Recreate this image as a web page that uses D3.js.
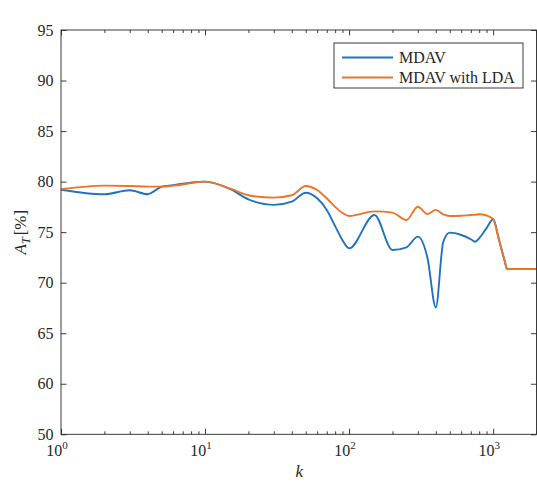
<!DOCTYPE html>
<html>
<head>
<meta charset="utf-8">
<script src="https://cdn.jsdelivr.net/npm/d3@7"></script>
<style>
  html, body { margin: 0; padding: 0; background: #fff; }
  svg { display: block; }
  text { font-family: "Liberation Serif", "Times New Roman", serif; fill: #262626; }
</style>
</head>
<body>
<svg id="chart" width="537" height="484"></svg>
<script>
// ---- data ----
const kValues = [1,2,3,4,5,6,7,8,9,10,15,20,30,40,50,60,70,80,90,100,150,200,250,300,350,400,450,500,600,700,750,800,900,1000,1100,1200,1250,1500,2000];
const mdav = [79.2,78.75,79.15,78.75,79.5,79.65,79.8,79.9,79.97,80.0,79.25,78.25,77.7,78.02,78.9,78.35,77.2,75.6,74.2,73.4,76.7,73.24,73.5,74.56,72.45,67.55,74.0,74.95,74.72,74.3,74.05,74.4,75.4,76.28,74.2,72.2,71.35,71.35,71.35];
const mdavLda = [79.24,79.6,79.57,79.5,79.5,79.6,79.72,79.85,79.95,80.0,79.3,78.65,78.42,78.65,79.57,79.17,78.35,77.5,76.9,76.6,77.06,76.93,76.2,77.52,76.8,77.2,76.75,76.6,76.62,76.7,76.72,76.77,76.65,76.28,74.2,72.2,71.35,71.35,71.35];
const seriesNames = ["MDAV", "MDAV with LDA"];
const seriesColors = ["#1F72BD", "#EC7424"];
const xMajorTicks = [1, 10, 100, 1000];
const xTickExponents = ["0", "1", "2", "3"];
const yTickValues = [55, 60, 65, 70, 75, 80, 85, 90, 95];
const yTickLabels = ["50", "60", "65", "70", "75", "80", "85", "90", "95"];

// ---- layout ----
const svg = d3.select("#chart");
const L = 61, R = 536.5, T = 30, B = 434.3;
const x = d3.scaleLog().domain([1, 2000]).range([L, R]);
const y = d3.scaleLinear().domain([55, 95]).range([B, T]);
const axisColor = "#262626";

// minor ticks
const xMinor = [];
for (const d of [1, 10, 100, 1000]) for (let m = 2; m <= 9; m++) { const v = d * m; if (v <= 2000) xMinor.push(v); }

// ---- lines ----
const series = [mdav, mdavLda];
const line = d3.line()
  .x((d, i) => x(kValues[i]))
  .y(d => y(d))
  .curve(d3.curveMonotoneX);

const clipId = "plotclip";
svg.append("clipPath").attr("id", clipId).append("rect")
  .attr("x", L).attr("y", T).attr("width", R - L).attr("height", B - T);

const g = svg.append("g").attr("clip-path", `url(#${clipId})`);
series.forEach((s, si) => {
  g.append("path")
    .datum(s)
    .attr("fill", "none")
    .attr("stroke", seriesColors[si])
    .attr("stroke-width", 1.9)
    .attr("stroke-linejoin", "round")
    .attr("d", line);
});

// ---- axes (inward ticks, box) ----
function styleAxis(sel) {
  sel.select(".domain").remove();
  sel.selectAll(".tick line").attr("stroke", axisColor).attr("stroke-width", 0.9);
  sel.selectAll(".tick text").remove();
}
svg.append("g").attr("transform", `translate(0,${B})`)
  .call(d3.axisBottom(x).tickValues(xMajorTicks).tickSize(-5.5).tickFormat(""))
  .call(styleAxis);
svg.append("g").attr("transform", `translate(0,${B})`)
  .call(d3.axisBottom(x).tickValues(xMinor).tickSize(-3).tickFormat(""))
  .call(styleAxis);
svg.append("g").attr("transform", `translate(0,${T})`)
  .call(d3.axisTop(x).tickValues(xMajorTicks).tickSize(-5.5).tickFormat(""))
  .call(styleAxis);
svg.append("g").attr("transform", `translate(0,${T})`)
  .call(d3.axisTop(x).tickValues(xMinor).tickSize(-3).tickFormat(""))
  .call(styleAxis);
svg.append("g").attr("transform", `translate(${L},0)`)
  .call(d3.axisLeft(y).tickValues(yTickValues).tickSize(-5.5).tickFormat(""))
  .call(styleAxis);
svg.append("g").attr("transform", `translate(${R},0)`)
  .call(d3.axisRight(y).tickValues(yTickValues).tickSize(-5.5).tickFormat(""))
  .call(styleAxis);

// box
svg.append("rect")
  .attr("x", L).attr("y", T).attr("width", R - L).attr("height", B - T)
  .attr("fill", "none").attr("stroke", axisColor).attr("stroke-width", 0.9);

// y tick labels
svg.append("g").selectAll("text")
  .data(yTickValues)
  .join("text")
  .attr("x", L - 7.5)
  .attr("y", d => y(d))
  .attr("dy", "0.35em")
  .attr("text-anchor", "end")
  .attr("font-size", 16)
  .text((d, i) => yTickLabels[i]);

// x tick labels 10^n
const xl = svg.append("g").selectAll("text")
  .data(xMajorTicks)
  .join("text")
  .attr("x", d => x(d) - 4)
  .attr("y", B + 22)
  .attr("text-anchor", "middle")
  .attr("font-size", 16);
xl.append("tspan").text("10");
xl.append("tspan").attr("font-size", 11).attr("dy", -7).text((d, i) => xTickExponents[i]);

// axis titles
svg.append("text")
  .attr("x", (L + R) / 2 + 0.5)
  .attr("y", 477)
  .attr("text-anchor", "middle")
  .attr("font-size", 17)
  .attr("font-style", "italic")
  .text("k");

const yl = svg.append("text")
  .attr("transform", `translate(26, ${y(75)})rotate(-90)`)
  .attr("text-anchor", "middle")
  .attr("font-size", 17);
yl.append("tspan").attr("font-style", "italic").text("A");
yl.append("tspan").attr("font-style", "italic").attr("font-size", 12).attr("dy", 4).text("T");
yl.append("tspan").attr("dy", -4).attr("dx", 2).text("[%]");

// ---- legend ----
const lg = svg.append("g");
lg.append("rect")
  .attr("x", 334).attr("y", 43).attr("width", 189).attr("height", 45)
  .attr("fill", "#fff").attr("stroke", axisColor).attr("stroke-width", 0.9);
seriesNames.forEach((name, i) => {
  const yy = 57.5 + i * 20;
  lg.append("line")
    .attr("x1", 342).attr("x2", 393).attr("y1", yy).attr("y2", yy)
    .attr("stroke", seriesColors[i]).attr("stroke-width", 1.9);
  lg.append("text")
    .attr("x", 399).attr("y", yy + 5.5)
    .attr("font-size", 16)
    .text(name);
});
</script>
</body>
</html>
